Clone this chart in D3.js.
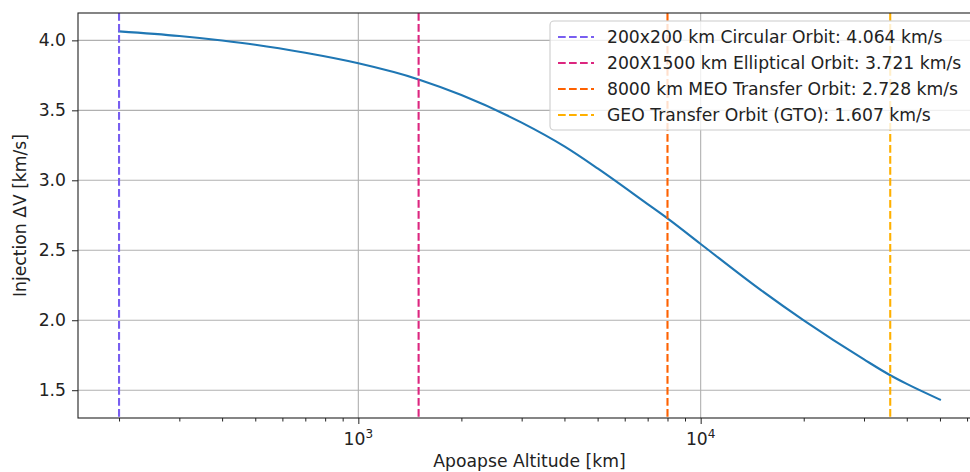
<!DOCTYPE html>
<html>
<head>
<meta charset="utf-8">
<script src="https://cdn.jsdelivr.net/npm/d3@7"></script>
<style>
  html, body { margin: 0; padding: 0; background: #fff; }
  svg { display: block; font-family: "DejaVu Sans", sans-serif; }
</style>
</head>
<body>
<svg id="chart" width="970" height="472"></svg>
<script>
// ---- data ----
const altitudes = [200, 300, 400, 500, 700, 1000, 1500, 2000, 3000, 4000, 5000, 7000, 8000, 10000, 15000, 20000, 30000, 35786, 40000, 50000];
const deltaV    = [4.064, 4.031, 3.999, 3.969, 3.911, 3.836, 3.721, 3.609, 3.412, 3.242, 3.085, 2.830, 2.728, 2.545, 2.215, 1.999, 1.720, 1.607, 1.545, 1.433];

const refAltitudes = [200, 1500, 8000, 35786];
const refLabels = [
  "200x200 km Circular Orbit: 4.064 km/s",
  "200X1500 km Elliptical Orbit: 3.721 km/s",
  "8000 km MEO Transfer Orbit: 2.728 km/s",
  "GEO Transfer Orbit (GTO): 1.607 km/s"
];
const refColors = ["#785EF0", "#DC267F", "#FE6100", "#FFB000"];

const yTicks = [1.5, 2.0, 2.5, 3.0, 3.5, 4.0];
const xMajorTicks = [1000, 10000];
const xMajorLabels = ["3", "4"];
const xMinorTicks = [200,300,400,500,600,700,800,900,2000,3000,4000,5000,6000,7000,8000,9000,20000,30000,40000,50000,60000];

const xLabel = "Apoapse Altitude [km]";
const yLabel = "Injection ΔV [km/s]";

// ---- layout ----
const L = 78, R = 981, T = 13, B = 418;
const FS = 17.2;
const svg = d3.select("#chart");

const lx0 = Math.log10(d3.min(altitudes)), lx1 = Math.log10(d3.max(altitudes));
const padX = (lx1 - lx0) * 0.05;
const x = d3.scaleLog().domain([Math.pow(10, lx0 - padX), Math.pow(10, lx1 + padX)]).range([L, R]);
const y0 = d3.min(deltaV), y1 = d3.max(deltaV), padY = (y1 - y0) * 0.05;
const y = d3.scaleLinear().domain([y0 - padY, y1 + padY]).range([B, T]);

const defs = svg.append("defs");
defs.append("clipPath").attr("id", "plotclip").append("rect")
  .attr("x", L).attr("y", T).attr("width", R - L).attr("height", B - T);

// grid
const grid = svg.append("g").attr("clip-path", "url(#plotclip)");
grid.selectAll("line.gy").data(yTicks).join("line")
  .attr("x1", L).attr("x2", R).attr("y1", d => y(d)).attr("y2", d => y(d))
  .attr("stroke", "#b0b0b0").attr("stroke-width", 1.1);
grid.selectAll("line.gx").data(xMajorTicks).join("line")
  .attr("x1", d => x(d)).attr("x2", d => x(d)).attr("y1", T).attr("y2", B)
  .attr("stroke", "#b0b0b0").attr("stroke-width", 1.1);

// curve
const plot = svg.append("g").attr("clip-path", "url(#plotclip)");
const pts = altitudes.map((a, i) => [a, deltaV[i]]);
plot.append("path").datum(pts)
  .attr("fill", "none").attr("stroke", "#1f77b4").attr("stroke-width", 2.1)
  .attr("stroke-linejoin", "round").attr("stroke-linecap", "square")
  .attr("d", d3.line().x(d => x(d[0])).y(d => y(d[1])).curve(d3.curveMonotoneX));

// reference lines
plot.selectAll("line.ref").data(refAltitudes).join("line")
  .attr("x1", d => x(d)).attr("x2", d => x(d)).attr("y1", T).attr("y2", B)
  .attr("stroke", (d, i) => refColors[i]).attr("stroke-width", 2.1)
  .attr("stroke-dasharray", "7.7,3.3");

// axes
const xAxisG = svg.append("g").attr("transform", `translate(0,${B})`);
xAxisG.call(d3.axisBottom(x).tickValues(xMinorTicks).tickSize(3.5).tickFormat(""))
  .call(g => g.select(".domain").remove());
xAxisG.append("g").call(d3.axisBottom(x).tickValues(xMajorTicks).tickSize(6).tickFormat(""))
  .call(g => g.select(".domain").remove());
xAxisG.selectAll(".tick line").attr("stroke", "#222").attr("stroke-width", 1);

// x major labels: 10^n
const xl = svg.append("g");
xMajorTicks.forEach((t, i) => {
  const txt = xl.append("text").attr("x", x(t)).attr("y", B + 27)
    .attr("text-anchor", "middle").attr("font-size", FS).attr("fill", "#222");
  txt.append("tspan").text("10");
  txt.append("tspan").attr("dy", -7).attr("font-size", 12).text(xMajorLabels[i]);
});

const yAxisG = svg.append("g").attr("transform", `translate(${L},0)`);
yAxisG.call(d3.axisLeft(y).tickValues(yTicks).tickSize(6).tickPadding(6).tickFormat(d3.format(".1f")))
  .call(g => g.select(".domain").remove());
yAxisG.selectAll(".tick line").attr("stroke", "#222");
yAxisG.selectAll(".tick text").attr("font-size", FS).attr("fill", "#222")
  .attr("font-family", "DejaVu Sans");

// spines
svg.append("rect").attr("x", L).attr("y", T).attr("width", R - L).attr("height", B - T)
  .attr("fill", "none").attr("stroke", "#222").attr("stroke-width", 1.1);

// axis labels
svg.append("text").attr("x", (L + R) / 2).attr("y", 467).attr("text-anchor", "middle")
  .attr("font-size", FS).attr("fill", "#222").text(xLabel);
svg.append("text").attr("transform", `translate(26,${(T + B) / 2}) rotate(-90)`)
  .attr("text-anchor", "middle").attr("font-size", FS).attr("fill", "#222").text(yLabel);

// legend
const lg = svg.append("g");
const lgX = 550, lgY = 21, lgW = 425, rowH = 26;
lg.append("rect").attr("x", lgX).attr("y", lgY).attr("width", lgW).attr("height", 109)
  .attr("rx", 4).attr("fill", "#fff").attr("fill-opacity", 0.8)
  .attr("stroke", "#cccccc").attr("stroke-width", 1.1);
refLabels.forEach((lab, i) => {
  const cy = 37 + i * rowH;
  lg.append("line").attr("x1", 558).attr("x2", 594).attr("y1", cy).attr("y2", cy)
    .attr("stroke", refColors[i]).attr("stroke-width", 2.1).attr("stroke-dasharray", "7.7,3.3");
  lg.append("text").attr("x", 607).attr("y", cy).attr("dy", "0.36em")
    .attr("font-size", FS).attr("fill", "#222").text(lab);
});
</script>
</body>
</html>
